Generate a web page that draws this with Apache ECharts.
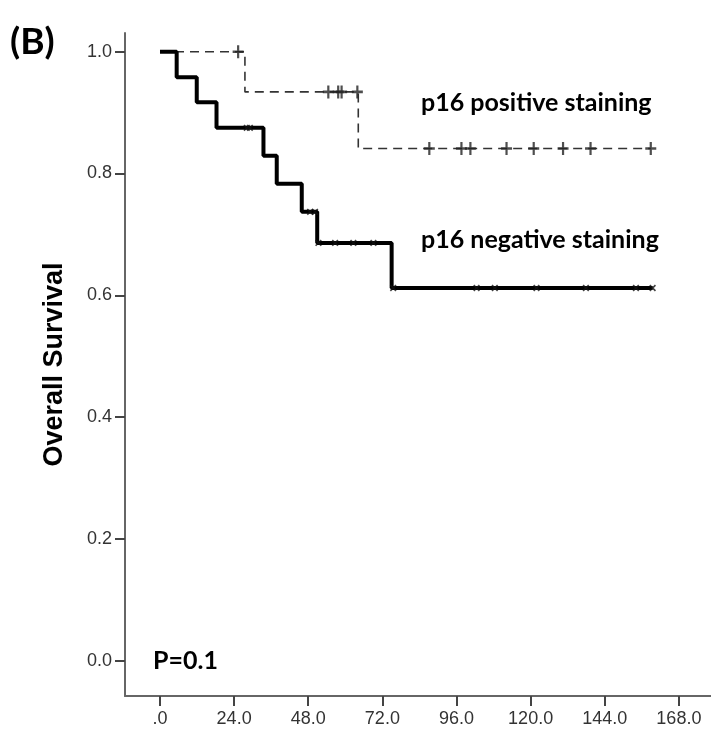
<!DOCTYPE html>
<html lang="en">
<head>
	<meta charset="UTF-8">
	<title>Overall survival by p16 staining</title>
	<script src="https://cdn.jsdelivr.net/npm/echarts@6/dist/echarts.min.js"></script>
	<style>
		html, body { margin: 0; padding: 0; background: #fff; }
	</style>
</head>
<body>
	<div id="chart" style="width: 711px;height: 732px;"></div>

	<script type="text/javascript">
		// tick values of the axes
		var xTicks = [0, 24, 48, 72, 96, 120, 144, 168];
		var yTicks = [0, 0.2, 0.4, 0.6, 0.8, 1.0];

		// p16 positive staining (dashed curve): step points [months, survival]
		var posSteps = [[0, 1.0], [27.5, 0.934], [64.2, 0.841], [158.9, 0.841]];
		// censored cases, positive
		var posCensorT = [25.3, 54.5, 57.7, 58.8, 63.9, 87.2, 97.6, 100.5, 112.2, 121.0, 130.5, 139.4, 158.9];
		var posCensorS = [1.0, 0.934, 0.934, 0.934, 0.934, 0.841, 0.841, 0.841, 0.841, 0.841, 0.841, 0.841, 0.841];

		// p16 negative staining (thick solid curve)
		var negSteps = [[0, 1.0], [5.4, 0.958], [11.9, 0.917], [18.3, 0.875], [33.5, 0.829], [37.8, 0.783],
			[45.9, 0.737], [50.9, 0.686], [75.0, 0.612], [159.5, 0.612]];
		var negCensorT = [28.1, 29.1, 48.6, 50.2, 51.3, 56.7, 62.6, 69.1, 75.5, 102.5, 108.4, 121.9, 137.9, 154.1, 159.5];
		var negCensorS = [0.875, 0.875, 0.737, 0.737, 0.686, 0.686, 0.686, 0.686, 0.612, 0.612, 0.612, 0.612, 0.612, 0.612, 0.612];

		function pairs(t, s) {
			var out = [];
			for (var i = 0; i < t.length; i++) {
				out.push([t[i], s[i]]);
			}
			return out;
		}

		var plusPath = 'path://M4,0h2v10h-2z M0,4h10v2h-10z';
		var boldFont = 'Lato, "Open Sans", sans-serif';
		var tickFont = '"Liberation Sans", Arial, sans-serif';

		var myChart = echarts.init(document.getElementById('chart'));
		myChart.setOption({
			animation: false,
			backgroundColor: '#fff',
			grid: {
				left: 125,
				right: 0,
				top: 33,
				bottom: 36
			},
			xAxis: {
				type: 'value',
				min: -11.33,
				max: 178.4,
				splitLine: { show: false },
				axisLine: { onZero: false, lineStyle: { color: '#666', width: 2 } },
				axisTick: {
					customValues: xTicks,
					length: 10,
					lineStyle: { color: '#444', width: 2 }
				},
				axisLabel: {
					customValues: xTicks,
					margin: 14,
					fontFamily: tickFont,
					fontSize: 18,
					color: '#333',
					formatter: function (v) { return v === 0 ? '.0' : v.toFixed(1); }
				}
			},
			yAxis: {
				type: 'value',
				min: -0.058,
				max: 1.0307,
				splitLine: { show: false },
				name: 'Overall Survival',
				nameLocation: 'middle',
				nameRotate: 90,
				nameGap: 57,
				nameTextStyle: {
					fontFamily: tickFont,
					fontWeight: 'bold',
					fontSize: 27,
					color: '#000'
				},
				axisLine: { onZero: false, lineStyle: { color: '#666', width: 2 } },
				axisTick: {
					customValues: yTicks,
					length: 10,
					lineStyle: { color: '#444', width: 2 }
				},
				axisLabel: {
					customValues: yTicks,
					margin: 13,
					fontFamily: tickFont,
					fontSize: 18,
					color: '#333',
					formatter: function (v) { return v.toFixed(1); }
				}
			},
			series: [{
				name: 'p16 positive staining',
				type: 'line',
				step: 'end',
				symbol: 'none',
				data: posSteps,
				lineStyle: { color: '#333', width: 1.6, type: [9, 6] },
				z: 2
			}, {
				name: 'p16 negative staining',
				type: 'line',
				step: 'end',
				symbol: 'none',
				data: negSteps,
				lineStyle: { color: '#000', width: 4, cap: 'butt' },
				z: 3
			}, {
				name: 'positive censored',
				type: 'scatter',
				data: pairs(posCensorT, posCensorS),
				symbol: plusPath,
				symbolSize: [11, 13],
				itemStyle: { color: '#222' },
				z: 4
			}, {
				name: 'negative censored',
				type: 'scatter',
				data: pairs(negCensorT, negCensorS),
				symbol: plusPath,
				symbolRotate: 45,
				symbolSize: [8, 8],
				itemStyle: { color: '#111' },
				z: 4
			}],
			graphic: [{
				type: 'text',
				x: 10,
				y: 42,
				style: { text: '(B)', font: 'bold 37px ' + boldFont, fill: '#000', verticalAlign: 'middle' }
			}, {
				type: 'text',
				x: 421,
				y: 103,
				style: { text: 'p16 positive staining', font: 'bold 25px ' + boldFont, fill: '#000', verticalAlign: 'middle' }
			}, {
				type: 'text',
				x: 421,
				y: 240,
				style: { text: 'p16 negative staining', font: 'bold 25px ' + boldFont, fill: '#000', verticalAlign: 'middle' }
			}, {
				type: 'text',
				x: 153,
				y: 661,
				style: { text: 'P=0.1', font: 'bold 25px ' + boldFont, fill: '#000', verticalAlign: 'middle' }
			}]
		});
	</script>
</body>
</html>
